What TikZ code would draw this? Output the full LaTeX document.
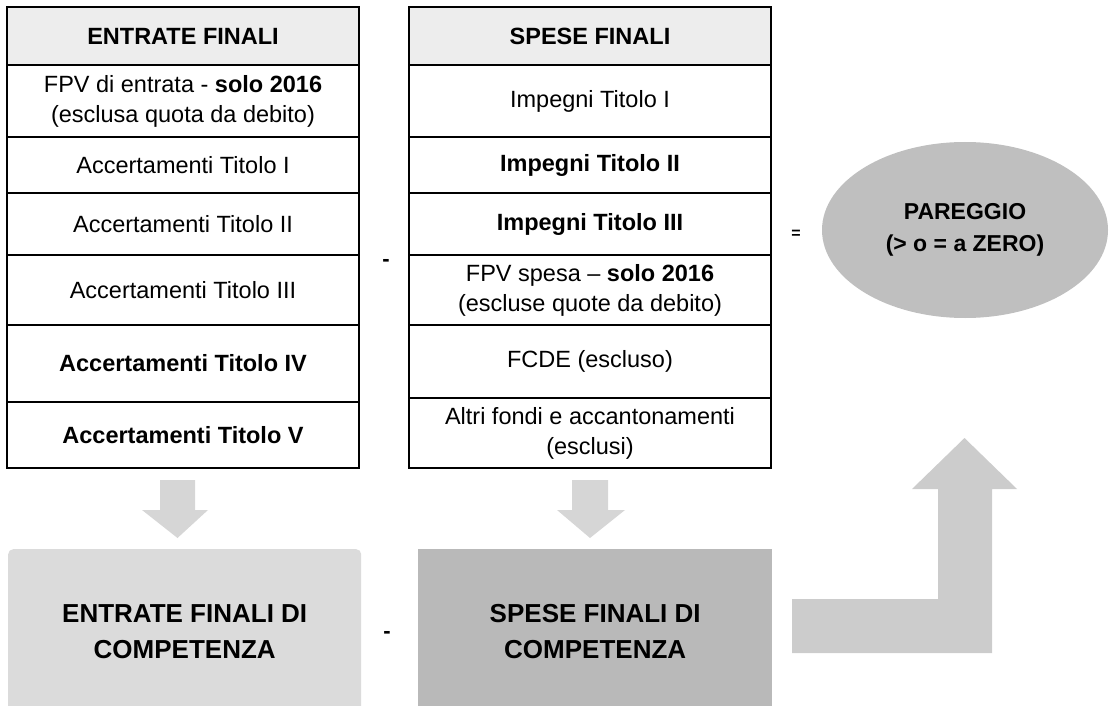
\documentclass[tikz,border=0pt]{standalone}
\usepackage{fontspec}
\setmainfont{Liberation Sans}
\usetikzlibrary{positioning,shapes.geometric}

\newcommand{\testo}{\fontsize{23.5}{30}\selectfont}
\newcommand{\testogr}{\fontsize{26}{36}\selectfont\bfseries}

\begin{document}
\begin{tikzpicture}[
  x=1pt, y=-1pt,
  node distance=0pt,
  cella/.style={draw, line width=1.1pt, inner sep=0pt, outer sep=0pt,
    align=center, font=\testo},
  testa/.style={cella, fill=gray!14, font=\testo\bfseries},
  esito/.style={minimum height=165pt, inner sep=0pt, align=center,
    font=\testogr, anchor=north west},
  segno/.style={font=\fontsize{22}{22}\selectfont\bfseries, inner sep=0pt},
  freccia/.style={fill=gray!32}
]
  \useasboundingbox (0,0) rectangle (1111,706);

  % entrate finali
  \begin{scope}[cella/.append style={minimum width=352pt}]
    \node[testa, minimum height=58pt, anchor=north west] (e0) at (7,7) {ENTRATE FINALI};
    \node[cella, minimum height=72pt, below=of e0] (e1) {FPV di entrata - \textbf{solo 2016}\\(esclusa quota da debito)};
    \node[cella, minimum height=56pt, below=of e1] (e2) {Accertamenti Titolo I};
    \node[cella, minimum height=62pt, below=of e2] (e3) {Accertamenti Titolo II};
    \node[cella, minimum height=70pt, below=of e3] (e4) {Accertamenti Titolo III};
    \node[cella, minimum height=77pt, below=of e4, font=\testo\bfseries] (e5) {Accertamenti Titolo IV};
    \node[cella, minimum height=66pt, below=of e5, font=\testo\bfseries] (e6) {Accertamenti Titolo V};
  \end{scope}

  % spese finali
  \begin{scope}[cella/.append style={minimum width=362pt}]
    \node[testa, minimum height=58pt, anchor=north west] (s0) at (409,7) {SPESE FINALI};
    \node[cella, minimum height=72pt, below=of s0] (s1) {Impegni Titolo I};
    \node[cella, minimum height=56pt, below=of s1, font=\testo\bfseries] (s2) {Impegni Titolo II};
    \node[cella, minimum height=62pt, below=of s2, font=\testo\bfseries] (s3) {Impegni Titolo III};
    \node[cella, minimum height=70pt, below=of s3] (s4) {FPV spesa -- \textbf{solo 2016}\\(escluse quote da debito)};
    \node[cella, minimum height=73pt, below=of s4] (s5) {FCDE (escluso)};
    \node[cella, minimum height=70pt, below=of s5] (s6) {Altri fondi e accantonamenti\\(esclusi)};
  \end{scope}

  \node[segno] (meno) at (386,263) {-};
  \node[segno, font=\fontsize{16}{16}\selectfont\bfseries] (uguale) at (796,234) {=};

  \node[ellipse, fill=gray!50, minimum width=286pt, minimum height=176pt,
    inner sep=0pt, align=center, font=\fontsize{23}{32}\selectfont\bfseries]
    (pareggio) at (965,230) {PAREGGIO\\(> o = a ZERO)};

  % competenza
  \node[esito, fill=gray!28, rounded corners=5pt, minimum width=353pt] (ecomp) at (8,549)
    {ENTRATE FINALI DI\\COMPETENZA};
  \node[esito, fill=gray!55, minimum width=354pt] (scomp) at (418,549)
    {SPESE FINALI DI\\COMPETENZA};
  \node[segno] (meno2) at (387,635) {-};

  % frecce
  \fill[freccia] (160,480) -- (195,480) -- (195,510) -- (208,510) -- (177.5,538)
    -- (142,510) -- (160,510) -- cycle;
  \fill[freccia] (572,480) -- (608,480) -- (608,510) -- (625,510) -- (590,538)
    -- (557,510) -- (572,510) -- cycle;
  \fill[gray!40] (792,599) -- (938,599) -- (938,489) -- (912,489) -- (964.5,438)
    -- (1017,489) -- (992,489) -- (992,653) -- (792,653) -- cycle;
\end{tikzpicture}
\end{document}
